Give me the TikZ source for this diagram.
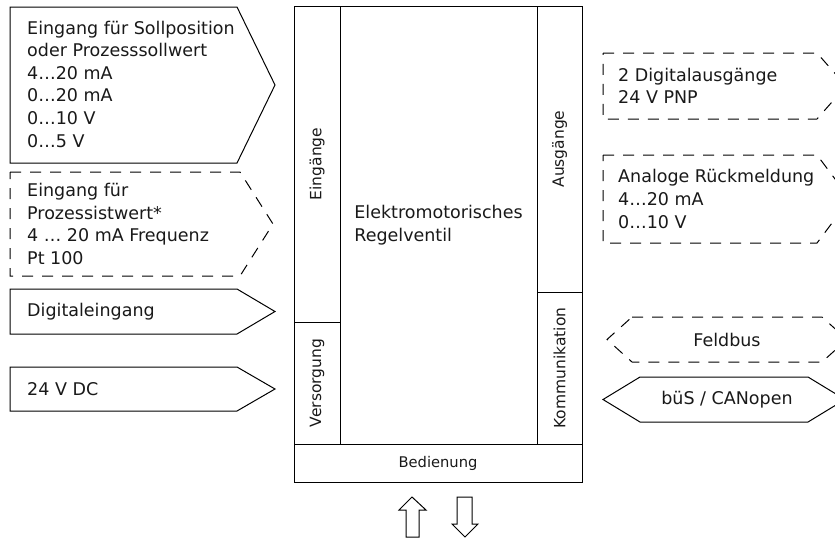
\documentclass[tikz,border=0pt]{standalone}
\usepackage{fontspec}
\setmainfont{DejaVu Sans}
\usetikzlibrary{calc}
\newcommand{\signalbox}[6][]{
	\draw[#1] (#2,#3)--(#4,#3)--(#4+#6,{(#3+#5)/2})--(#4,#5)--(#2,#5)--cycle;
}
\newcommand{\hexbox}[6][]{
	\draw[#1] (#2,#3)--(#4,#3)--(#4+#6,{(#3+#5)/2})--(#4,#5)--(#2,#5)--(#2-#6,{(#3+#5)/2})--cycle;
}
\begin{document}
\begin{tikzpicture}[x=1pt,y=-1pt,
	linie/.style={line width=1pt,draw=black},
	strich/.style={linie,dash pattern=on 11pt off 9pt},
	txt/.style={inner sep=0pt,align=left,anchor=west,text=black!90,font=\fontsize{17.5}{22.6}\selectfont},
	mitte/.style={txt,anchor=center,align=center},
	seite/.style={mitte,rotate=90,font=\fontsize{15.5}{18}\selectfont}]
\useasboundingbox (0,0) rectangle (835,539);

\signalbox[linie]{10}{7}{237}{163}{38}
\signalbox[strich]{10}{172}{240}{276}{33}
\signalbox[linie]{10}{289}{237}{334}{38}
\signalbox[linie]{10}{367}{237}{411}{38}
\node[txt] (soll) at (27,84) {Eingang für Sollposition\\oder Prozesssollwert\\4…20 mA\\0…20 mA\\0…10 V\\0…5 V};
\node[txt] (ist) at (27,224) {Eingang für\\Prozessistwert*\\4 … 20 mA Frequenz\\Pt 100};
\node[txt] (digein) at (27,312) {Digitaleingang};
\node[txt] (dc) at (27,389) {24 V DC};

\draw[linie] (294,6) rectangle (582,482);
\draw[linie] (294,444)--(582,444);
\draw[linie] (340,6)--(340,444) (294,322)--(340,322);
\draw[linie] (537,6)--(537,444) (537,292)--(582,292);
\node[seite] (ein) at (317,164) {Eingänge};
\node[seite] (vers) at (317,383) {Versorgung};
\node[seite] (aus) at (559.5,149) {Ausgänge};
\node[seite] (komm) at (559.5,368) {Kommunikation};
\node[txt,anchor=center] (ventil) at (438.5,225) {Elektromotorisches\\Regelventil};
\node[mitte,font=\fontsize{14.7}{18}\selectfont] (bed) at (438,463) {Bedienung};

\draw[linie] (412,497)--(426,510)--(419,510)--(419,537)--(406,537)--(406,510)--(399,510)--cycle;
\draw[linie] (457,497)--(472,497)--(472,524)--(478,524)--(465,537)--(452,524)--(457,524)--cycle;

\signalbox[strich]{603}{53}{817}{119}{29}
\signalbox[strich]{603}{155}{817}{243}{33}
\hexbox[strich]{632}{317}{822}{362}{25}
\hexbox[linie]{640}{377}{808}{422}{37}
\node[txt] (digaus) at (618,86) {2 Digitalausgänge\\24 V PNP};
\node[txt] (rueck) at (618,199) {Analoge Rückmeldung\\4…20 mA\\0…10 V};
\node[mitte] (feld) at (727,340) {Feldbus};
\node[mitte] (bues) at (727,400) {büS / CANopen};

\end{tikzpicture}
\end{document}
